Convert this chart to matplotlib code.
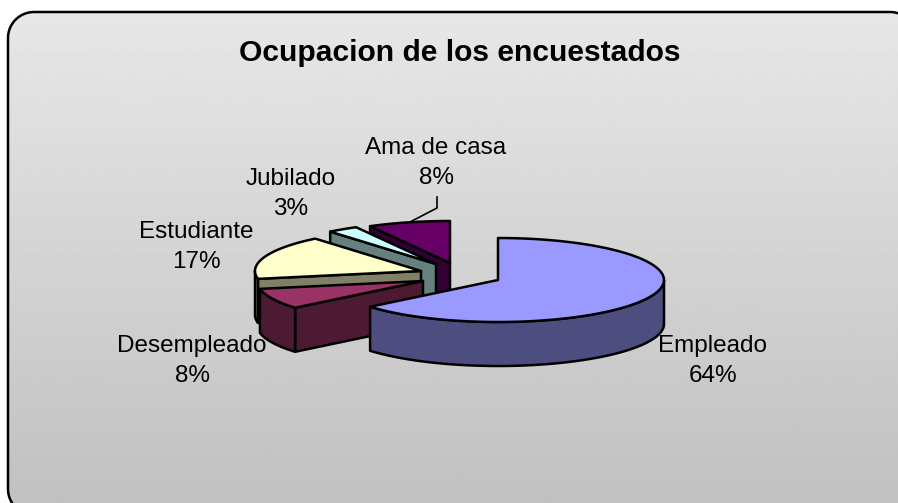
#!/usr/bin/env python3
"""
Exploded 3D style pie: Ocupacion de los encuestados
"""

import matplotlib
matplotlib.use('Agg')
import matplotlib.pyplot as plt
import numpy as np
from matplotlib.patches import Polygon

plt.rcParams['font.family'] = ['Liberation Sans', 'DejaVu Sans']

categories = ['Empleado', 'Desempleado', 'Estudiante', 'Jubilado', 'Ama de casa']
shares = [64, 8, 17, 3, 8]

top_colors = ['#9999FF', '#993366', '#FFFFCC', '#CCFFFF', '#660066']
side_colors = ['#4D4D80', '#4D1A33', '#808066', '#668080', '#330033']

# apex of each exploded slice, in pixels
apexes = [(498, 280), (423, 281), (421, 271), (436, 264), (450, 263)]
label_pos = [(713, 361), (192, 361), (196, 247), (291, 194), (436, 163)]

RX, RY, DEPTH = 166, 42, 44
W, H = 898, 503


def rim(apex, a0, a1):
    t = np.radians(np.linspace(a0, a1, 80))
    return np.column_stack([apex[0] + RX * np.sin(t), apex[1] - RY * np.cos(t)])


def rounded_box(x0, y0, x1, y1, r):
    # corners sampled as polylines, curved patches bend when they run off the canvas
    pts = []
    for cx, cy, start in ((x1 - r, y0 + r, 0), (x1 - r, y1 - r, 90),
                          (x0 + r, y1 - r, 180), (x0 + r, y0 + r, 270)):
        t = np.radians(np.linspace(start, start + 90, 20))
        pts.append(np.column_stack([cx + r * np.sin(t), cy - r * np.cos(t)]))
    return np.vstack(pts)


def draw_slice(ax, apex, a0, a1, top, side):
    style = dict(edgecolor='black', linewidth=1.8, joinstyle='round')
    ap = np.array(apex, dtype=float)
    drop = np.array([0, DEPTH])

    # cut faces, only those turned to the viewer
    for ang, visible in ((a0, 180 < a0 < 360), (a1, 0 < a1 < 180)):
        if visible:
            p = rim(apex, ang, ang)[0]
            ax.add_patch(Polygon([ap, p, p + drop, ap + drop], facecolor=side, **style))

    # outer wall, front half of the ellipse
    lo, hi = max(a0, 90), min(a1, 270)
    if lo < hi:
        arc = rim(apex, lo, hi)
        ax.add_patch(Polygon(np.vstack([arc, (arc + drop)[::-1]]), facecolor=side, **style))

    # top face
    ax.add_patch(Polygon(np.vstack([ap, rim(apex, a0, a1)]), facecolor=top, **style))


def main():
    fig = plt.figure(figsize=(W / 100, H / 100), dpi=100, facecolor='white')
    ax = fig.add_axes([0, 0, 1, 1])
    ax.set_xlim(0, W)
    ax.set_ylim(H, 0)
    ax.axis('off')

    # panel with vertical gradient, runs off the right and bottom edges
    panel = Polygon(rounded_box(8, 12, 916, 515, 26), facecolor='none', edgecolor='black',
                    linewidth=1.8, zorder=2)
    ax.add_patch(panel)
    grad = np.linspace(0.91, 0.755, 256).reshape(-1, 1)
    im = ax.imshow(grad, cmap='gray', vmin=0, vmax=1, extent=(0, W, H, 0), aspect='auto', zorder=1)
    im.set_clip_path(panel)
    ax.set_xlim(0, W)
    ax.set_ylim(H, 0)

    ax.text(460, 53, 'Ocupacion de los encuestados', fontsize=21.6, fontweight='bold',
            ha='center', va='center', color='black', zorder=5)

    # slice angles clockwise from 12 o'clock
    edges = np.cumsum([0] + shares) / sum(shares) * 360

    # leader for the last label
    ax.plot([437, 437, 410], [197, 208, 222], color='black', linewidth=1.2, zorder=3)

    # back slices first so the front ones cover them
    order = [4, 3, 2, 1, 0]
    for n, i in enumerate(order):
        before = len(ax.patches)
        draw_slice(ax, apexes[i], edges[i], edges[i + 1], top_colors[i], side_colors[i])
        for p in ax.patches[before:]:
            p.set_zorder(4 + n * 0.1)

    for cat, val, (x, y) in zip(categories, shares, label_pos):
        ax.text(x, y, f'{cat}\n{val}%', fontsize=17.5, ha='center', va='center',
                linespacing=1.5, color='black', zorder=5)

    fig.savefig('out.png', dpi=100)


if __name__ == '__main__':
    main()
